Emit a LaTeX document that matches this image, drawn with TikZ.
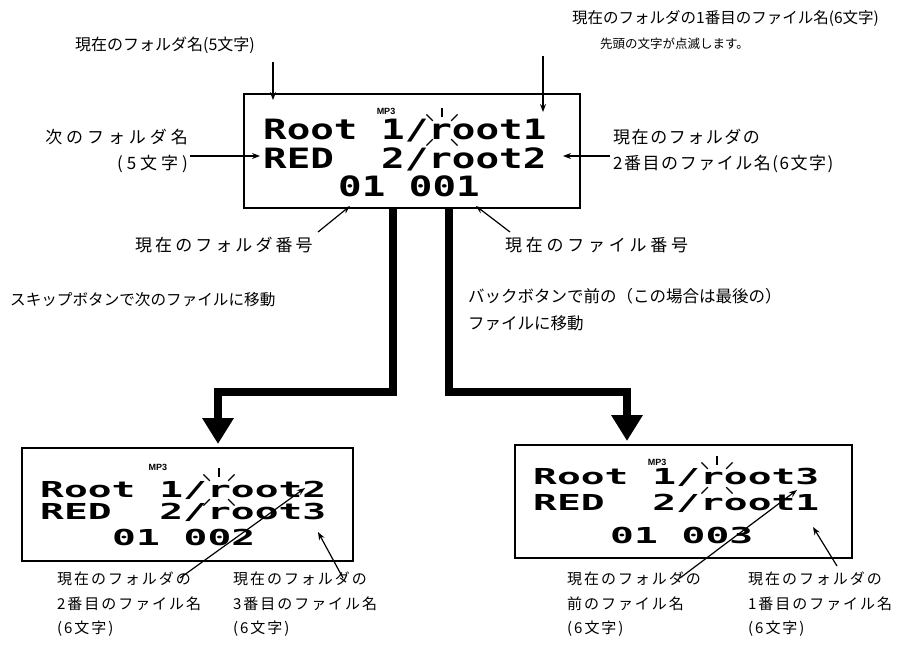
\documentclass[tikz,border=0pt]{standalone}
\usepackage{fontspec}
\setmainfont{Noto Sans CJK JP}
\newfontfamily\lcdfont{DejaVu Sans Mono}
\newfontfamily\mpfont{Liberation Sans}
\usetikzlibrary{arrows.meta,calc}
\newcommand\blinkrays[1]{%
  \foreach \a in {90,135,45,225,315}{\draw[ray] ($(#1)+(\a:13pt)$) -- ($(#1)+(\a:22pt)$);}}
\begin{document}
\begin{tikzpicture}[x=1pt,y=-1pt,
  lbl/.style={font=\fontsize{16}{20}\selectfont, inner sep=0pt, anchor=west},
  wlbl/.style={font=\fontsize{17}{26}\selectfont\addfontfeature{LetterSpace=#1}, inner sep=0pt, anchor=west},
  slbl/.style={font=\fontsize{15}{24.5}\selectfont\addfontfeature{LetterSpace=13}, inner sep=0pt, anchor=north west, align=left},
  note/.style={font=\fontsize{12.5}{14}\selectfont, inner sep=0pt, anchor=west},
  lcdbox/.style={draw, line width=1.3pt, inner sep=0pt},
  big/.style={font=\lcdfont\bfseries\fontsize{28}{28}\selectfont, inner sep=0pt, anchor=base west},
  small/.style={font=\lcdfont\bfseries\fontsize{22}{22}\selectfont, inner sep=0pt, anchor=base west},
  mp/.style={font=\mpfont\bfseries\fontsize{9}{9}\selectfont, inner sep=0pt},
  ptr/.style={line width=1.2pt, -{Stealth[length=8pt,width=6pt]}},
  fat/.style={line width=8pt, -{Triangle[width=30pt,length=26pt]}},
  ray/.style={line width=1.3pt},
]
\useasboundingbox (0,0) rectangle (905,651);
\fill[white] (0,0) rectangle (905,651);

% ---------- main display ----------
\node[lcdbox, minimum width=336pt, minimum height=114pt] (main) at (412,151) {};
\node[big] (m1) at (263,139) {\scalebox{1.4}[1]{Root 1/root1}};
\node[big] (m2) at (263,168) {\scalebox{1.4}[1]{RED~~2/root2}};
\node[big] (m3) at (338,196) {\scalebox{1.4}[1]{01 001}};
\node[mp] (mmp) at (386,111) {MP3};
\coordinate (mr) at (442,130);
\blinkrays{mr}

% ---------- lower-left display ----------
\node[lcdbox, minimum width=331pt, minimum height=113pt] (boxL) at (187.5,504.5) {};
\node[small] (l1) at (40,497) {\scalebox{1.8}[1]{Root 1/root2}};
\node[small] (l2) at (40,519) {\scalebox{1.8}[1]{RED~~2/root3}};
\node[small] (l3) at (112,545) {\scalebox{1.8}[1]{01 002}};
\node[mp] (lmp) at (158,467) {MP3};
\coordinate (lr) at (219,490);
\blinkrays{lr}

% ---------- lower-right display ----------
\node[lcdbox, minimum width=337pt, minimum height=113pt] (boxR) at (683.5,501.5) {};
\node[small] (r1) at (533,484) {\scalebox{1.8}[1]{Root 1/root3}};
\node[small] (r2) at (533,510) {\scalebox{1.8}[1]{RED~~2/root1}};
\node[small] (r3) at (610,543) {\scalebox{1.8}[1]{01 003}};
\node[mp] (rmp) at (657,462) {MP3};
\coordinate (rr) at (717,478);
\blinkrays{rr}

% ---------- labels around main ----------
\node[lbl] (t1) at (75,45) {現在のフォルダ名(5文字)};
\node[lbl, font=\fontsize{15.5}{20}\selectfont] (t2) at (572,18) {現在のフォルダの1番目のファイル名(6文字)};
\node[note] (t3) at (600,44) {先頭の文字が点滅します。};
\node[wlbl=23, anchor=east, align=right] (t4) at (188,151) {次のフォルダ名\\(5文字)};
\node[wlbl=9, align=left] (t5) at (613,151) {現在のフォルダの\\2番目のファイル名(6文字)};
\node[wlbl=18] (t6) at (135,245) {現在のフォルダ番号};
\node[wlbl=22] (t7) at (505,245) {現在のファイル番号};
\node[lbl, font=\fontsize{15.6}{20}\selectfont] (t8) at (10,300) {スキップボタンで次のファイルに移動};
\node[lbl, font=\fontsize{16.5}{27}\selectfont, align=left, anchor=north west] (t9) at (468,288) {バックボタンで前の（この場合は最後の）\\ファイルに移動};

\coordinate (a1s) at (273,62);  \coordinate (a1e) at (273,100);
\coordinate (a2s) at (543,56);  \coordinate (a2e) at (543,112);
\coordinate (a3s) at (190,156); \coordinate (a3e) at (260,156);
\coordinate (a4s) at (610,156); \coordinate (a4e) at (563,156);
\coordinate (a5s) at (318,232); \coordinate (a5e) at (350,206);
\coordinate (a6s) at (510,232); \coordinate (a6e) at (476,206);
\draw[ptr] (a1s) -- (a1e);
\draw[ptr] (a2s) -- (a2e);
\draw[ptr] (a3s) -- (a3e);
\draw[ptr] (a4s) -- (a4e);
\draw[ptr] (a5s) -- (a5e);
\draw[ptr] (a6s) -- (a6e);

% ---------- big arrows ----------
\draw[fat] (main.south -| 393,0) |- (218,392) -- (218,444);
\draw[fat] (main.south -| 449,0) |- (627,392) -- (627,441);

% ---------- labels below lower displays ----------
\node[slbl] (b1) at (57,572) {現在のフォルダの\\2番目のファイル名\\(6文字)};
\node[slbl] (b2) at (233,572) {現在のフォルダの\\3番目のファイル名\\(6文字)};
\node[slbl] (b3) at (567,572) {現在のフォルダの\\前のファイル名\\(6文字)};
\node[slbl] (b4) at (748,572) {現在のフォルダの\\1番目のファイル名\\(6文字)};

\coordinate (c1e) at (305,488); \coordinate (c1s) at (180,578);
\coordinate (c2e) at (318,532); \coordinate (c2s) at (343,578);
\coordinate (c3e) at (797,490); \coordinate (c3s) at (680,578);
\coordinate (c4e) at (813,527); \coordinate (c4s) at (837,566);
\draw[ptr] (c1s) -- (c1e);
\draw[ptr] (c2s) -- (c2e);
\draw[ptr] (c3s) -- (c3e);
\draw[ptr] (c4s) -- (c4e);
\end{tikzpicture}
\end{document}
